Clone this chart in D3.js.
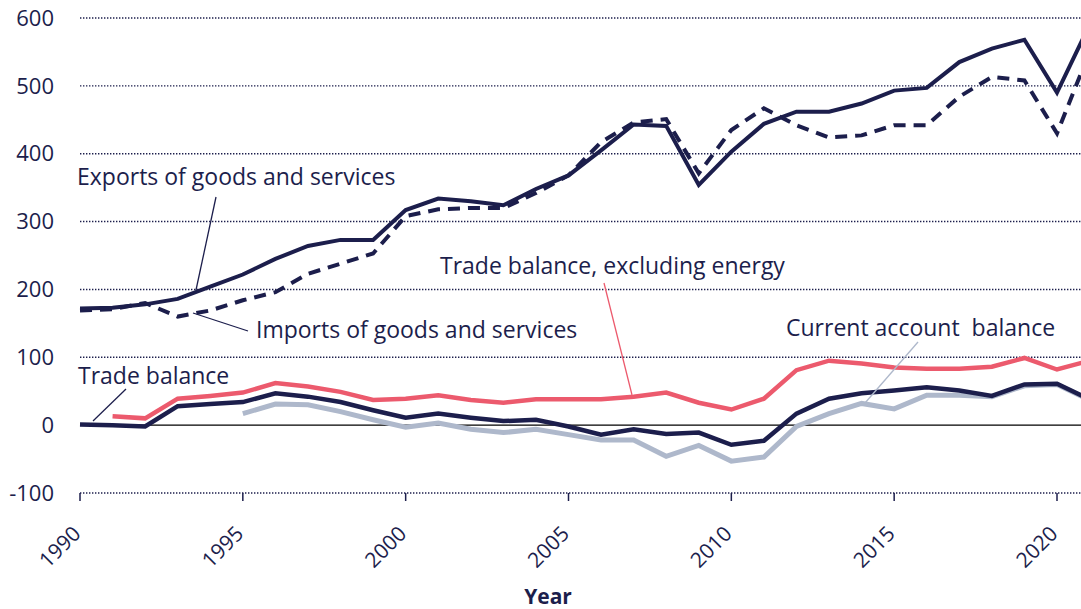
<!DOCTYPE html>
<html><head><meta charset="utf-8">
<script src="https://cdn.jsdelivr.net/npm/d3@7"></script>
<style>body{margin:0;background:#fff}svg{display:block;font-family:"Open Sans",sans-serif}</style>
</head><body><svg id="c" width="1081" height="609"></svg>
<script>
const years = d3.range(1990, 2022);
const exportsVals = [172,173,178,186,204,222,245,264,273,273,317,334,330,324,348,368,405,443,441,354,403,444,462,462,474,493,497,535,555,568,490,590];
const importsVals = [169,171,180,160,169,184,196,223,238,253,308,318,320,320,342,368,417,446,451,371,435,467,442,424,427,442,442,484,513,508,430,550];
const tradeBalance = [1,0,-2,28,31,34,47,42,34,22,11,17,11,6,8,-2,-14,-6,-13,-11,-29,-23,17,39,47,51,56,51,43,60,61,38];
const tradeExEnergy = [null,13,10,39,43,48,62,57,49,37,39,44,37,33,38,38,38,42,48,33,23,39,81,95,91,85,83,83,86,99,82,95];
const currentAccount = [null,null,null,null,null,17,31,30,20,8,-3,3,-6,-11,-6,-14,-22,-22,-46,-30,-53,-47,-2,17,32,24,44,44,42,58,60,37];
const yTicks = [-100,0,100,200,300,400,500,600];
const xTicks = [1990,1995,2000,2005,2010,2015,2020];

const navy = "#1c1e4c", pink = "#ec5a6d", grey = "#aeb8cb";
const svg = d3.select("#c");
const x = d3.scaleLinear().domain([1990, 2021]).range([80, 80 + 31 * 977 / 30]);
const y = d3.scaleLinear().domain([-100, 600]).range([493, 18]);

// gridlines
svg.append("g").selectAll("line").data(yTicks.filter(d => d !== 0)).join("line")
  .attr("x1", x(1990)).attr("x2", 1081).attr("y1", d => y(d)).attr("y2", d => y(d))
  .attr("stroke", navy).attr("stroke-width", 1.4).attr("stroke-dasharray", "1.4,1.6");
svg.append("line").attr("x1", x(1990)).attr("x2", 1081).attr("y1", y(0)).attr("y2", y(0))
  .attr("stroke", "#000").attr("stroke-width", 1.2);

// y labels
svg.append("g").selectAll("text").data(yTicks).join("text")
  .attr("x", 54).attr("y", d => y(d)).attr("dy", "0.35em").attr("text-anchor", "end")
  .attr("fill", navy).attr("font-size", 22).text(d => d);

// x ticks
const xa = svg.append("g");
xa.selectAll("line").data(xTicks).join("line")
  .attr("x1", d => x(d)).attr("x2", d => x(d)).attr("y1", 493).attr("y2", 501)
  .attr("stroke", navy).attr("stroke-width", 1.5);
xa.selectAll("text").data(xTicks).join("text")
  .attr("transform", d => `translate(${x(d) + 2},${535}) rotate(-45)`)
  .attr("text-anchor", "end").attr("fill", navy).attr("font-size", 21).text(d => d);
svg.append("text").attr("x", 548).attr("y", 604).attr("text-anchor", "middle")
  .attr("font-weight", "bold").attr("font-size", 21).attr("fill", navy).text("Year");

const line = vals => d3.line().defined((d, i) => vals[i] !== null)
  .x((d, i) => x(years[i])).y((d, i) => y(vals[i]))(vals);

svg.append("path").attr("d", line(currentAccount)).attr("fill", "none").attr("stroke", grey).attr("stroke-width", 5);
svg.append("path").attr("d", line(tradeExEnergy)).attr("fill", "none").attr("stroke", pink).attr("stroke-width", 4.5);
svg.append("path").attr("d", line(tradeBalance)).attr("fill", "none").attr("stroke", navy).attr("stroke-width", 4.5);
svg.append("path").attr("d", line(importsVals)).attr("fill", "none").attr("stroke", navy).attr("stroke-width", 4).attr("stroke-dasharray", "12,8");
svg.append("path").attr("d", line(exportsVals)).attr("fill", "none").attr("stroke", navy).attr("stroke-width", 4);

// annotations
const ann = [
  {t: "Exports of goods and services", tx: 77, ty: 185, c: navy, l: [216, 197, 196, 290]},
  {t: "Imports of goods and services", tx: 256, ty: 338, c: navy, l: [248, 331, 193, 313]},
  {t: "Trade balance", tx: 78, ty: 384, c: navy, l: [126, 389, 93, 421]},
  {t: "Trade balance, excluding energy", tx: 440, ty: 274, c: navy, l: [604, 283, 632, 395], lc: pink},
  {t: "Current account\u00a0 balance", tx: 786, ty: 336, c: navy, l: [918, 342, 865, 403], lc: grey}
];
ann.forEach(a => {
  svg.append("line").attr("x1", a.l[0]).attr("y1", a.l[1]).attr("x2", a.l[2]).attr("y2", a.l[3])
    .attr("stroke", a.lc || navy).attr("stroke-width", 1.3);
  svg.append("text").attr("x", a.tx).attr("y", a.ty).attr("fill", a.c).attr("font-size", 23).text(a.t);
});
</script></body></html>
